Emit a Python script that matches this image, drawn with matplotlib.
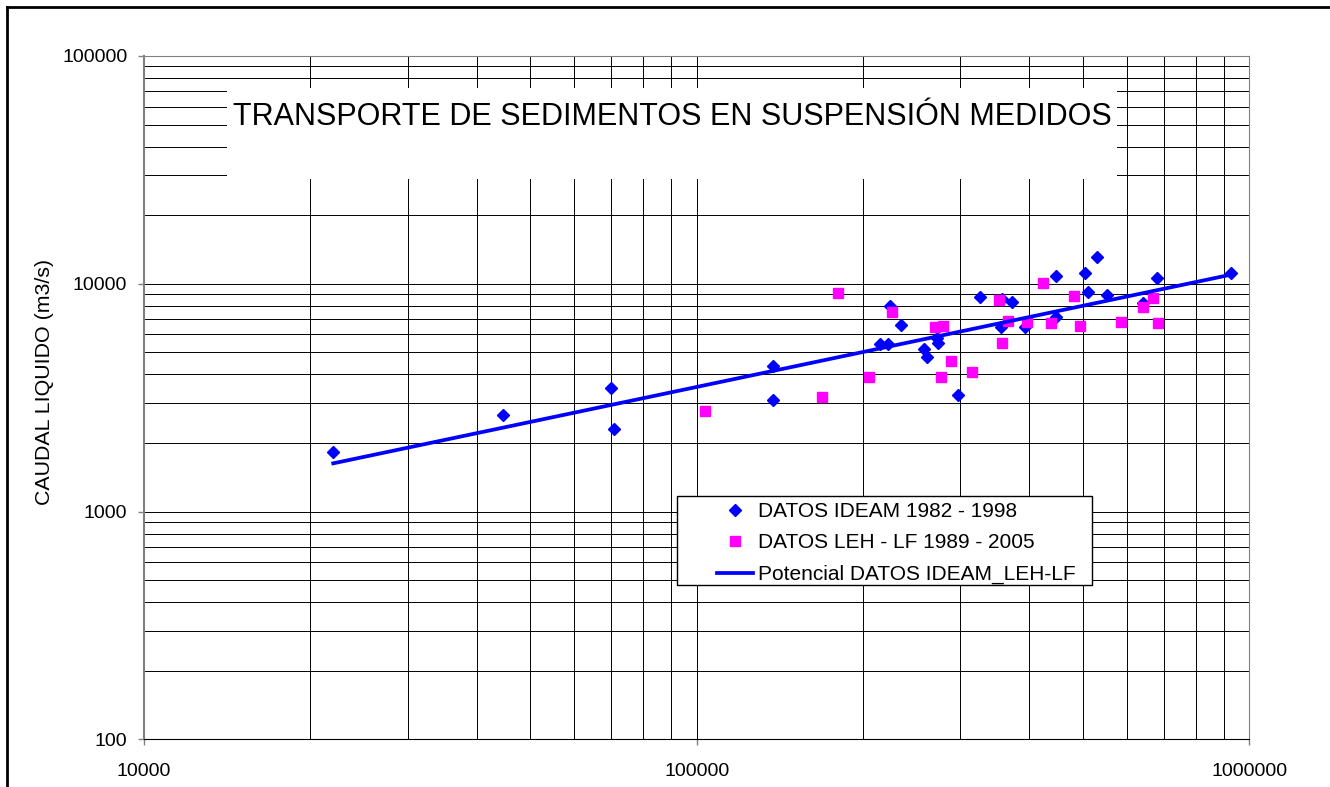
import matplotlib
matplotlib.use("Agg")
import numpy as np
import matplotlib.pyplot as plt
from matplotlib.lines import Line2D
from matplotlib.patches import Rectangle
from matplotlib.ticker import FuncFormatter, NullFormatter, LogLocator

plt.rcParams["font.family"] = ["Liberation Sans", "DejaVu Sans"]

# datos IDEAM 1982 - 1998 (x: transporte, y: caudal)
ideam_x = [22000, 44600, 70000, 71000, 137500, 137200, 223900, 234400, 214700, 222100,
           257900, 261500, 272000, 273100, 297600, 326200, 356600, 372200, 355500, 393300,
           447600, 446500, 505000, 509900, 529700, 553600, 641900, 680100, 926900]
ideam_y = [1820, 2656, 3477, 2305, 4335, 3090, 7950, 6560, 5441, 5441,
           5157, 4756, 5765, 5513, 3250, 8777, 8550, 8344, 6442, 6442,
           7150, 10820, 11120, 9205, 13150, 8930, 8260, 10640, 11120]

# datos LEH - LF 1989 - 2005
leh_x = [103400, 168400, 180500, 205100, 225500, 270100, 279600, 288600, 276600, 315400,
         352600, 366500, 357500, 395600, 422900, 437300, 481900, 494000, 586900, 643500,
         668900, 683000]
leh_y = [2765, 3176, 9085, 3910, 7541, 6482, 6527, 4596, 3910, 4113,
         8489, 6887, 5480, 6817, 10050, 6708, 8840, 6548, 6817, 7934,
         8637, 6708]

titulo = "TRANSPORTE DE SEDIMENTOS EN SUSPENSIÓN MEDIDOS"

# ajuste potencial sobre todos los datos
all_x = np.array(ideam_x + leh_x, dtype=float)
all_y = np.array(ideam_y + leh_y, dtype=float)
b, log_a = np.polyfit(np.log10(all_x), np.log10(all_y), 1)
fit_x = np.array([all_x.min(), all_x.max()])
fit_y = 10 ** log_a * fit_x ** b

W, H = 1330, 787
fig = plt.figure(figsize=(W / 100, H / 100), dpi=100)
ax = fig.add_axes([144 / W, 1 - 739.3 / H, 1105.3 / W, 683.3 / H])

ax.set_xscale("log")
ax.set_yscale("log")
ax.set_xlim(1e4, 1e6)
ax.set_ylim(100, 1e5)

ax.set_axisbelow(True)
ax.grid(True, which="both", color="black", linewidth=0.7)
ax.xaxis.set_minor_locator(LogLocator(base=10, subs=np.arange(2, 10)))
ax.yaxis.set_minor_locator(LogLocator(base=10, subs=np.arange(2, 10)))
fmt = FuncFormatter(lambda v, p: f"{v:.0f}")
ax.xaxis.set_major_formatter(fmt)
ax.yaxis.set_major_formatter(fmt)
ax.xaxis.set_minor_formatter(NullFormatter())
ax.yaxis.set_minor_formatter(NullFormatter())
ax.tick_params(which="major", direction="out", length=4, width=1, color="#808080",
               labelsize=14)
ax.tick_params(axis="y", which="major", pad=8)
ax.tick_params(axis="x", which="major", pad=13)
ax.tick_params(which="minor", length=0)

for side in ["top", "right", "left"]:
    ax.spines[side].set_color("#808080")
ax.spines["left"].set_linewidth(1.5)
ax.spines["bottom"].set_color("black")

ax.plot(ideam_x, ideam_y, linestyle="none", marker="D", markersize=6.3,
        color="#0000FF", label="DATOS IDEAM 1982 - 1998", zorder=3)
ax.plot(leh_x, leh_y, linestyle="none", marker="s", markersize=7.5,
        color="#FF00FF", label="DATOS LEH - LF 1989 - 2005", zorder=3)
ax.plot(fit_x, fit_y, color="#0000FF", linewidth=2.7,
        label="Potencial DATOS IDEAM_LEH-LF", zorder=4)

fig.text(45 / W, 1 - 382 / H, "CAUDAL LIQUIDO (m3/s)", rotation=90,
         ha="center", va="center", fontsize=15.4)

# recuadro de la leyenda
ax.add_patch(Rectangle(((677 - 144) / 1105.3, (739.3 - 585) / 683.3),
                       (1092 - 677) / 1105.3, (585 - 495.7) / 683.3,
                       transform=ax.transAxes, facecolor="white", edgecolor="black",
                       linewidth=1, zorder=5))
leg = ax.legend(loc="upper left", bbox_to_anchor=((717 - 144) / 1105.3, (739.3 - 502) / 683.3),
                frameon=False, fontsize=15, borderpad=0, borderaxespad=0,
                handlelength=1.73, handletextpad=0.24, labelspacing=0.6, numpoints=1)
leg.set_zorder(6)

# cuadro del titulo
fig.add_artist(Rectangle((227 / W, 1 - 179 / H), (1117 - 227) / W, (179 - 88) / H,
                         transform=fig.transFigure, facecolor="white", edgecolor="none",
                         zorder=2))
fig.text(672 / W, 1 - 125 / H, titulo, ha="center", va="baseline", fontsize=22, zorder=3)

# marco de la figura
fig.add_artist(Line2D([7 / W, 7 / W], [0, 1 - 7 / H], transform=fig.transFigure,
                      color="black", linewidth=2))
fig.add_artist(Line2D([7 / W, 1], [1 - 7 / H, 1 - 7 / H], transform=fig.transFigure,
                      color="black", linewidth=2))

fig.savefig("out.png", dpi=100)
